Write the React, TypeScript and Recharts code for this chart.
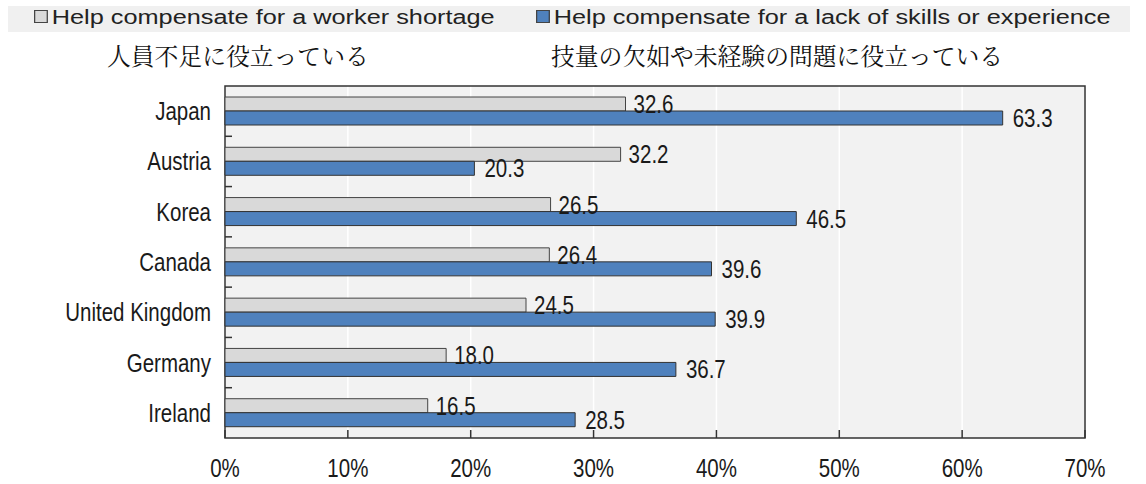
import React from 'react';
import { BarChart, Bar, XAxis, YAxis, CartesianGrid, LabelList, ReferenceArea } from 'recharts';

const countries = ['Japan', 'Austria', 'Korea', 'Canada', 'United Kingdom', 'Germany', 'Ireland'];
const workerShortage = [32.6, 32.2, 26.5, 26.4, 24.5, 18.0, 16.5];
const skillsLack = [63.3, 20.3, 46.5, 39.6, 39.9, 36.7, 28.5];
const xTicks = [0, 10, 20, 30, 40, 50, 60, 70];

const data = countries.map((country, i) => ({
  country,
  shortage: workerShortage[i],
  skills: skillsLack[i],
}));

const FONT = '"Liberation Sans", Arial, sans-serif';
const GRAY = '#d9d9d9';
const BLUE = '#4f81bd';
const BAND = 352 / countries.length;

// the source uses a tall, condensed face: fake it with a vertical stretch
const TallText = ({ x, y, anchor = 'start', children }: any) => (
  <text
    transform={`translate(${x},${y}) scale(1,1.25)`}
    textAnchor={anchor}
    fontFamily={FONT}
    fontSize={20.5}
    fill="#1a1a1a"
  >
    {children}
  </text>
);

const YTick = (props: any) => {
  const { x, y, payload, index } = props;
  return (
    <g>
      <TallText x={x - 14} y={y + 9} anchor="end">{payload.value}</TallText>
      {index > 0 && (
        <line x1={x} x2={x + 7} y1={y - BAND / 2} y2={y - BAND / 2} stroke="#333" strokeWidth={1.5} />
      )}
    </g>
  );
};

const XTick = (props: any) => {
  const { x, y, payload } = props;
  return (
    <g>
      <line x1={x} x2={x} y1={y} y2={y - 8} stroke="#333" strokeWidth={1.5} />
      <TallText x={x} y={y + 39} anchor="middle">{payload.value}%</TallText>
    </g>
  );
};

const valueLabel = (offset: number) => (props: any) => {
  const { x, y, width, height, value } = props;
  return (
    <TallText x={x + width + offset} y={y + height / 2 + 9}>
      {Number(value).toFixed(1)}
    </TallText>
  );
};

const legendText: React.CSSProperties = {
  position: 'absolute',
  top: 6,
  fontFamily: FONT,
  fontSize: 20,
  color: '#222',
  whiteSpace: 'nowrap',
  transform: 'scaleX(1.265)',
  transformOrigin: 'left center',
};

const Swatch = ({ color }: { color: string }) => (
  <span
    style={{
      display: 'inline-block',
      width: 9,
      height: 11,
      background: color,
      border: '1px solid #444',
      marginRight: 3,
      verticalAlign: 'middle',
      position: 'relative',
      top: -2,
    }}
  />
);

const jpText: React.CSSProperties = {
  position: 'absolute',
  top: 38,
  fontFamily: '"Noto Serif CJK JP", "Noto Sans CJK JP", serif',
  fontSize: 23.8,
  color: '#111',
  whiteSpace: 'nowrap',
};

export default function App() {
  return (
    <div style={{ position: 'absolute', left: 0, top: 0, width: 1146, height: 484, background: '#fff', overflow: 'hidden' }}>
      <div style={{ position: 'absolute', left: 8, top: 6, width: 1122, height: 26, background: '#f0f0f0' }} />
      <div style={{ ...legendText, left: 34 }}>
        <Swatch color={GRAY} />Help compensate for a worker shortage
      </div>
      <div style={{ ...legendText, left: 536 }}>
        <Swatch color={BLUE} />Help compensate for a lack of skills or experience
      </div>
      <div style={{ ...jpText, left: 107 }}>人員不足に役立っている</div>
      <div style={{ ...jpText, left: 551 }}>技量の欠如や未経験の問題に役立っている</div>
      <div style={{ position: 'absolute', left: 0, top: 80 }}>
        <BarChart
          width={1146}
          height={404}
          data={data}
          layout="vertical"
          margin={{ top: 6, right: 61, bottom: 6, left: 10 }}
          barGap={0}
          barSize={14}
        >
          <CartesianGrid horizontal={false} stroke="#ffffff" strokeWidth={1.5} fill="#f2f2f2" />
          <XAxis
            type="number"
            domain={[0, 70]}
            ticks={xTicks}
            height={40}
            axisLine={false}
            tickLine={false}
            tickSize={0}
            tickMargin={0}
            tick={<XTick />}
            interval={0}
          />
          <YAxis
            type="category"
            dataKey="country"
            width={215}
            axisLine={false}
            tickLine={false}
            tickSize={0}
            tickMargin={0}
            tick={<YTick />}
            interval={0}
          />
          <ReferenceArea x1={0} x2={70} fill="none" stroke="#333" strokeWidth={1.5} ifOverflow="extendDomain" />
          <Bar dataKey="shortage" fill={GRAY} stroke="#444" strokeWidth={1} isAnimationActive={false}>
            <LabelList dataKey="shortage" content={valueLabel(8)} />
          </Bar>
          <Bar dataKey="skills" fill={BLUE} stroke="#333" strokeWidth={1} isAnimationActive={false}>
            <LabelList dataKey="skills" content={valueLabel(10)} />
          </Bar>
        </BarChart>
      </div>
    </div>
  );
}
